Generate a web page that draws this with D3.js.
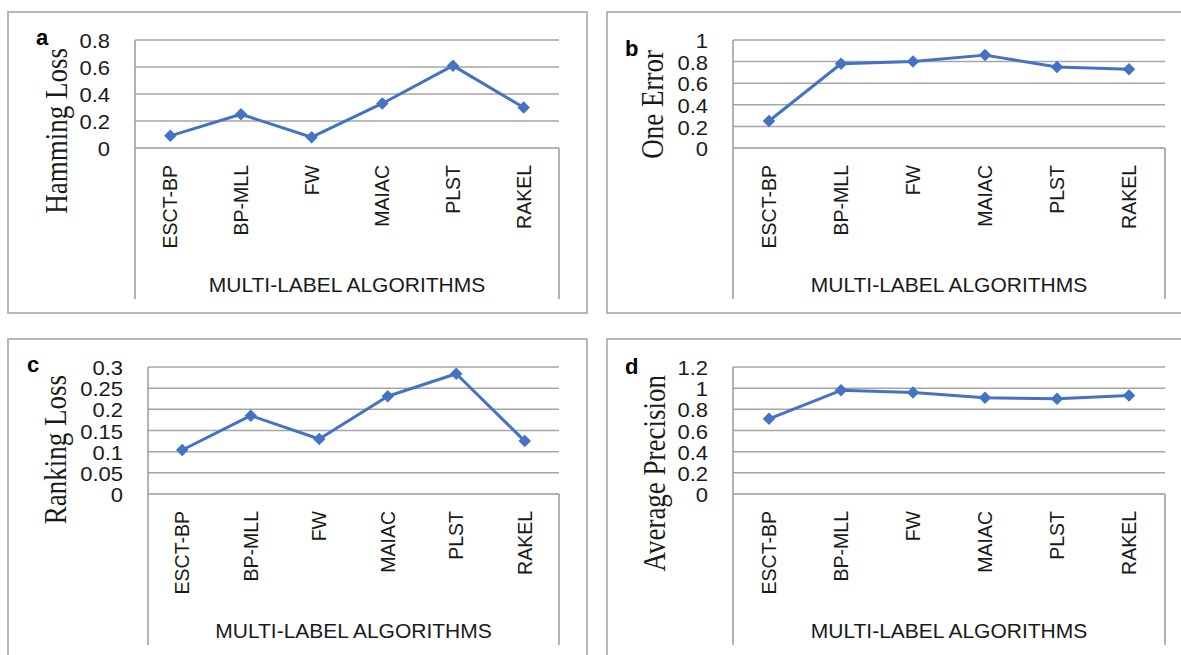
<!DOCTYPE html>
<html>
<head>
<meta charset="utf-8">
<script src="https://cdn.jsdelivr.net/npm/d3@7"></script>
<style>
  html, body { margin: 0; padding: 0; background: #fff; }
  svg { display: block; }
</style>
</head>
<body>
<svg id="chart" width="1181" height="655"></svg>
<script>
// ---- data ----
const categories = ["ESCT-BP", "BP-MLL", "FW", "MAIAC", "PLST", "RAKEL"];
const hammingLoss = [0.09, 0.25, 0.08, 0.33, 0.61, 0.30];
const oneError = [0.25, 0.78, 0.80, 0.86, 0.75, 0.73];
const rankingLoss = [0.104, 0.185, 0.13, 0.231, 0.284, 0.125];
const avgPrecision = [0.71, 0.98, 0.96, 0.91, 0.90, 0.93];

const ticksA = [0, 0.2, 0.4, 0.6, 0.8];
const tickLabelsA = ["0", "0.2", "0.4", "0.6", "0.8"];
const ticksB = [0, 0.2, 0.4, 0.6, 0.8, 1];
const tickLabelsB = ["0", "0.2", "0.4", "0.6", "0.8", "1"];
const ticksC = [0, 0.05, 0.1, 0.15, 0.2, 0.25, 0.3];
const tickLabelsC = ["0", "0.05", "0.1", "0.15", "0.2", "0.25", "0.3"];
const ticksD = [0, 0.2, 0.4, 0.6, 0.8, 1, 1.2];
const tickLabelsD = ["0", "0.2", "0.4", "0.6", "0.8", "1", "1.2"];

const panelLetters = ["a", "b", "c", "d"];
const yTitles = ["Hamming Loss", "One Error", "Ranking Loss", "Average Precision"];
const xTitle = "MULTI-LABEL ALGORITHMS";

// ---- layout (positions only) ----
const panels = [
  { box: [8, 12, 587, 313], px: [135, 559], py: [148, 40], letter: [36, 45], ylab: [67, 48],
    values: hammingLoss, ticks: ticksA, labels: tickLabelsA },
  { box: [607, 12, 1190, 313], px: [733, 1165], py: [148, 40], letter: [625, 56], ylab: [663, 50],
    values: oneError, ticks: ticksB, labels: tickLabelsB },
  { box: [8, 339, 587, 665], px: [148, 559], py: [494, 367], letter: [27, 372], ylab: [66, 375],
    values: rankingLoss, ticks: ticksC, labels: tickLabelsC },
  { box: [607, 339, 1190, 665], px: [733, 1165], py: [494, 367], letter: [625, 374], ylab: [665, 375],
    values: avgPrecision, ticks: ticksD, labels: tickLabelsD }
];

const svg = d3.select("#chart");
const gridColor = "#a6a6a6";
const lineColor = "#4472C4";

panels.forEach((p, i) => {
  const g = svg.append("g");
  // outer frame
  g.append("rect")
    .attr("x", p.box[0]).attr("y", p.box[1])
    .attr("width", p.box[2] - p.box[0]).attr("height", p.box[3] - p.box[1])
    .attr("fill", "none").attr("stroke", "#a0a0a0").attr("stroke-width", 1.5);

  const x = d3.scalePoint().domain(categories).range(p.px).padding(0.5);
  const y = d3.scaleLinear().domain([0, d3.max(p.ticks)]).range(p.py);
  const axisY = y(0);
  const bottom = axisY + 151;

  // gridlines
  g.selectAll(".grid").data(p.ticks.filter(t => t !== 0)).join("line")
    .attr("x1", p.px[0]).attr("x2", p.px[1])
    .attr("y1", d => y(d)).attr("y2", d => y(d))
    .attr("stroke", gridColor).attr("stroke-width", 1.5);
  // axis line
  g.append("line")
    .attr("x1", p.px[0]).attr("x2", p.px[1]).attr("y1", axisY).attr("y2", axisY)
    .attr("stroke", "#9a9a9a").attr("stroke-width", 1.5);
  // left plot edge (top to bottom), right edge below axis
  g.append("line")
    .attr("x1", p.px[0]).attr("x2", p.px[0]).attr("y1", y(d3.max(p.ticks))).attr("y2", bottom)
    .attr("stroke", "#9a9a9a").attr("stroke-width", 1.5);
  g.append("line")
    .attr("x1", p.px[1]).attr("x2", p.px[1]).attr("y1", axisY).attr("y2", bottom)
    .attr("stroke", "#9a9a9a").attr("stroke-width", 1.5);

  // y tick labels
  g.selectAll(".tick").data(p.ticks).join("g")
    .attr("transform", d => `translate(${p.px[0] - 25},${y(d) + 1}) scale(1.1,1)`)
    .append("text")
    .attr("text-anchor", "end").attr("dominant-baseline", "central")
    .attr("font-family", "'Liberation Sans', Arial, sans-serif").attr("font-size", 20)
    .attr("fill", "#1a1a1a")
    .text((d, k) => p.labels[k]);

  // category labels (rotated)
  g.selectAll(".cat").data(categories).join("text")
    .attr("transform", d => `translate(${x(d)},${axisY + 17}) rotate(-90)`)
    .attr("text-anchor", "end").attr("dominant-baseline", "central")
    .attr("font-family", "'Liberation Sans', Arial, sans-serif").attr("font-size", 19.5)
    .attr("fill", "#1a1a1a")
    .text(d => d);

  // x title
  g.append("text")
    .attr("x", (p.px[0] + p.px[1]) / 2).attr("y", axisY + 136)
    .attr("text-anchor", "middle").attr("dominant-baseline", "central")
    .attr("font-family", "'Liberation Sans', Arial, sans-serif").attr("font-size", 21)
    .attr("fill", "#1a1a1a")
    .text(xTitle);

  // y title (serif, rotated)
  g.append("g")
    .attr("transform", `translate(${p.ylab[0]},${p.ylab[1]}) scale(1.15,1) rotate(-90)`)
    .append("text")
    .attr("text-anchor", "end")
    .attr("font-family", "'Liberation Serif', 'Times New Roman', serif").attr("font-size", 27)
    .attr("fill", "#1a1a1a")
    .text(yTitles[i]);

  // panel letter
  g.append("text")
    .attr("x", p.letter[0]).attr("y", p.letter[1])
    .attr("font-family", "'Liberation Sans', Arial, sans-serif").attr("font-size", 22)
    .attr("font-weight", "bold").attr("fill", "#000")
    .text(panelLetters[i]);

  // series line
  const data = categories.map((c, k) => ({ c, v: p.values[k] }));
  g.append("path")
    .datum(data)
    .attr("fill", "none").attr("stroke", lineColor).attr("stroke-width", 3)
    .attr("stroke-linejoin", "round")
    .attr("d", d3.line().x(d => x(d.c)).y(d => y(d.v)));

  // diamond markers
  const sym = d3.symbol().type(d3.symbolSquare).size(78);
  g.selectAll(".mk").data(data).join("path")
    .attr("transform", d => `translate(${x(d.c)},${y(d.v)}) rotate(45)`)
    .attr("d", sym)
    .attr("fill", lineColor);
});
</script>
</body>
</html>
